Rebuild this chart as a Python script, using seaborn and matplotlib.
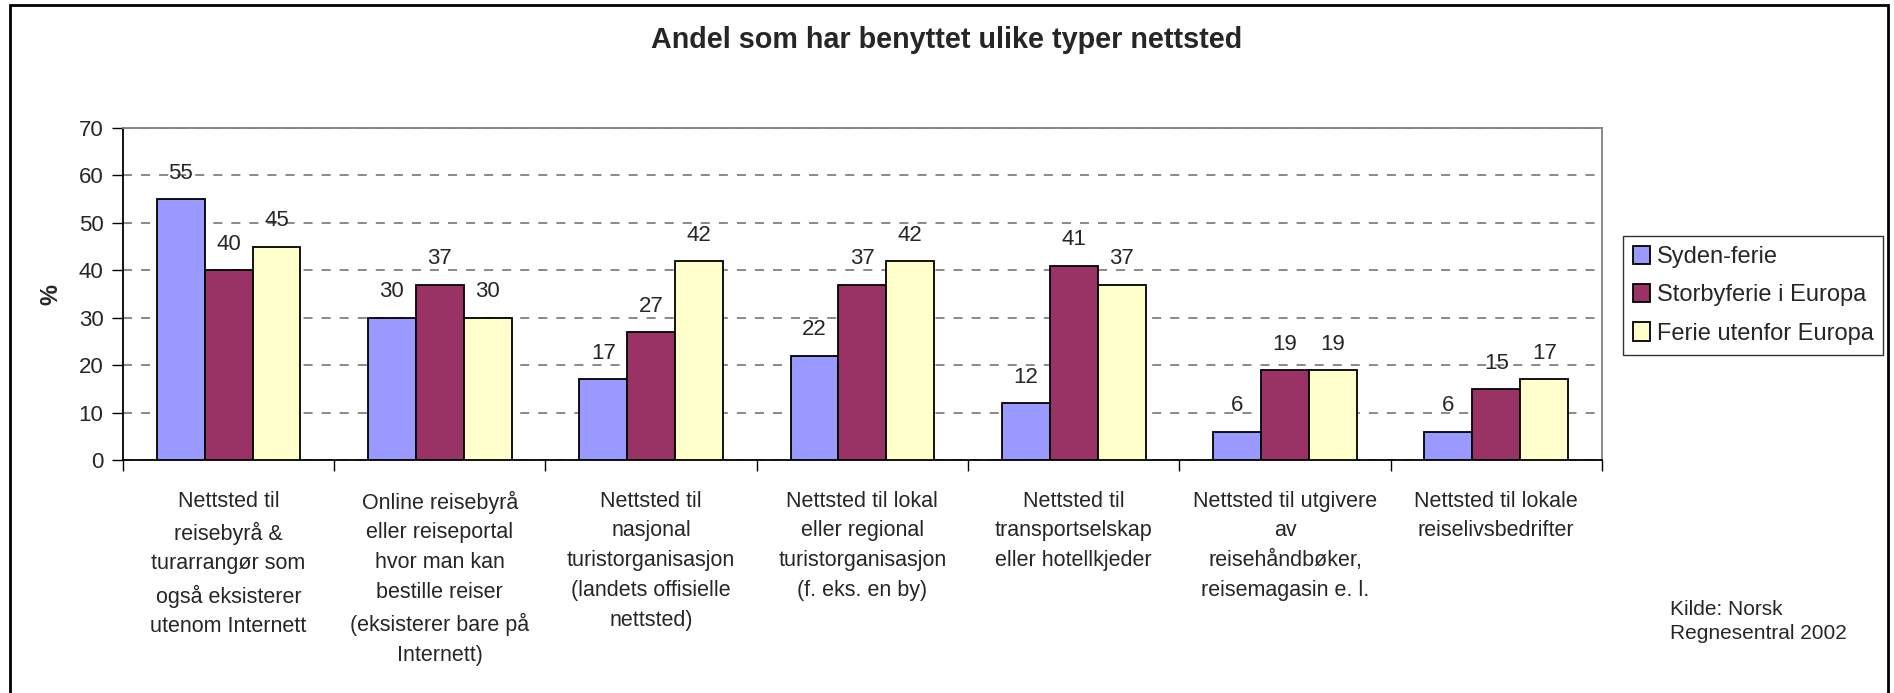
"""Grouped bar chart: share who used different types of travel websites."""
import matplotlib
matplotlib.use("Agg")
import matplotlib.pyplot as plt
import pandas as pd
import seaborn as sns
from matplotlib.patches import Patch, Rectangle
from matplotlib.ticker import FixedLocator

categories = [
    "Nettsted til\nreisebyrå &\nturarrangør som\nogså eksisterer\nutenom Internett",
    "Online reisebyrå\neller reiseportal\nhvor man kan\nbestille reiser\n(eksisterer bare på\nInternett)",
    "Nettsted til\nnasjonal\nturistorganisasjon\n(landets offisielle\nnettsted)",
    "Nettsted til lokal\neller regional\nturistorganisasjon\n(f. eks. en by)",
    "Nettsted til\ntransportselskap\neller hotellkjeder",
    "Nettsted til utgivere\nav\nreisehåndbøker,\nreisemagasin e. l.",
    "Nettsted til lokale\nreiselivsbedrifter",
]
series = ["Syden-ferie", "Storbyferie i Europa", "Ferie utenfor Europa"]
syden = [55, 30, 17, 22, 12, 6, 6]
storby = [40, 37, 27, 37, 41, 19, 15]
utenfor = [45, 30, 42, 42, 37, 19, 17]
colors = ["#9999FF", "#993366", "#FFFFCC"]

df = pd.DataFrame({
    "kategori": categories * 3,
    "serie": [s for s in series for _ in categories],
    "verdi": syden + storby + utenfor,
})

sns.set_style("white")
plt.rcParams["font.family"] = ["Liberation Sans", "DejaVu Sans"]

fig = plt.figure(figsize=(18.94, 6.93), dpi=100)
ax = fig.add_axes([0.0649, 0.3362, 0.7809, 0.4791])

sns.barplot(
    data=df, x="kategori", y="verdi", hue="serie",
    palette=dict(zip(series, colors)), width=0.68, gap=0,
    edgecolor="black", linewidth=1.3, errorbar=None, legend=False,
    saturation=1, ax=ax, zorder=3,
)

for cont in ax.containers:
    ax.bar_label(cont, padding=11, fontsize=16)

ax.set_ylim(0, 70)
ax.set_xlim(-0.5, 6.5)
ax.set_yticks(range(0, 71, 10))
ax.tick_params(axis="y", labelsize=16, length=8, width=1, direction="out",
               left=True, color="black", pad=6)
ax.yaxis.grid(True, color="#808080", linestyle=(0, (5, 5)), linewidth=1.3, zorder=0)
ax.set_axisbelow(True)

ax.set_xticks(range(len(categories)))
ax.set_xticklabels(categories, fontsize=15.5, linespacing=1.55)
ax.tick_params(axis="x", length=0, pad=22)
ax.xaxis.set_minor_locator(FixedLocator([i - 0.5 for i in range(len(categories) + 1)]))
ax.tick_params(axis="x", which="minor", length=8, width=1, direction="out",
               bottom=True, color="black")

ax.set_xlabel("")
ax.set_ylabel("%", fontsize=17, fontweight="bold", labelpad=12)

for side in ["left", "bottom"]:
    ax.spines[side].set_color("black")
    ax.spines[side].set_linewidth(1.3)
for side in ["top", "right"]:
    ax.spines[side].set_color("#808080")
    ax.spines[side].set_linewidth(1.3)

handles = [Patch(facecolor=c, edgecolor="black", linewidth=1.3) for c in colors]
fig.legend(
    handles, series, loc="upper left", bbox_to_anchor=(0.857, 0.6595),
    fontsize=17, frameon=True, fancybox=False, edgecolor="black",
    handlelength=0.7, handleheight=0.8, handletextpad=0.3,
    labelspacing=0.68, borderpad=0.42, borderaxespad=0,
)
fig.legends[0].get_frame().set_linewidth(1.0)

fig.suptitle("Andel som har benyttet ulike typer nettsted", x=0.5, y=0.962,
             fontsize=20.7, fontweight="bold", va="top")

fig.text(0.8817, 0.103, "Kilde: Norsk\nRegnesentral 2002", fontsize=15,
         ha="left", va="center", linespacing=1.35)

fig.add_artist(Rectangle((10 / 1894, -0.02), 1878 / 1894, 1.02 - 5 / 693,
                         transform=fig.transFigure, fill=False,
                         edgecolor="black", linewidth=2))

fig.savefig("out.png", dpi=100)
